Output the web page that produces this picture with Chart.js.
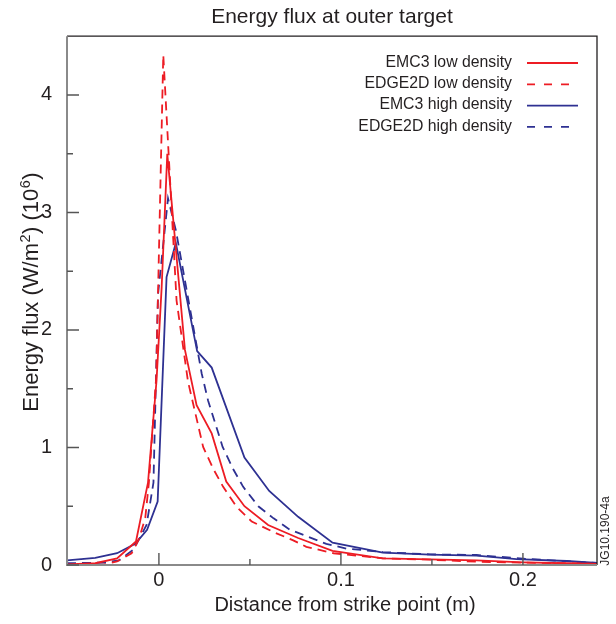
<!DOCTYPE html>
<html>
<head>
<meta charset="utf-8">
<script src="https://cdn.jsdelivr.net/npm/chart.js@4.4.1/dist/chart.umd.min.js"></script>
<style>
  html, body { margin: 0; padding: 0; background: #ffffff; }
  #wrap { width: 616px; height: 624px; }
</style>
</head>
<body>
<div id="wrap"><canvas id="c" width="616" height="624"></canvas></div>
<script>
// ---------- DATA ----------
const seriesLabels = ['EMC3 low density', 'EDGE2D low density', 'EMC3 high density', 'EDGE2D high density'];

const emc3LowX  = [-0.0505, -0.035, -0.023, -0.0126, -0.006, -0.0013, 0.0015, 0.0046, 0.0143, 0.0207, 0.029, 0.037, 0.047, 0.060, 0.0765, 0.0954, 0.123, 0.149, 0.1745, 0.2, 0.224, 0.2407];
const emc3LowY  = [0.005, 0.015, 0.057, 0.20, 0.70, 1.57, 2.36, 3.50, 1.83, 1.36, 1.12, 0.71, 0.50, 0.34, 0.23, 0.12, 0.057, 0.048, 0.040, 0.023, 0.015, 0.010];

const edgeLowX  = [-0.0505, -0.03, -0.023, -0.015, -0.011, -0.0075, -0.0055, -0.0015, 0.0024, 0.0097, 0.016, 0.0243, 0.0298, 0.0353, 0.0427, 0.051, 0.063, 0.0738, 0.081, 0.096, 0.123, 0.149, 0.1745, 0.2, 0.2407];
const edgeLowY  = [0.0, 0.005, 0.03, 0.10, 0.22, 0.40, 0.70, 1.60, 4.34, 2.25, 1.56, 1.005, 0.82, 0.665, 0.495, 0.37, 0.28, 0.21, 0.155, 0.10, 0.057, 0.045, 0.028, 0.02, 0.01];

const emc3HighX = [-0.0505, -0.035, -0.023, -0.013, -0.0065, -0.0007, 0.0042, 0.0093, 0.021, 0.029, 0.047, 0.0606, 0.0765, 0.0954, 0.123, 0.149, 0.1745, 0.1965, 0.224, 0.2407];
const emc3HighY = [0.04, 0.06, 0.10, 0.18, 0.30, 0.54, 2.45, 2.74, 1.82, 1.68, 0.915, 0.63, 0.41, 0.19, 0.105, 0.088, 0.079, 0.05, 0.034, 0.017];

const edgeHighX = [-0.0505, -0.03, -0.022, -0.014, -0.0068, -0.003, -0.0005, 0.005, 0.0093, 0.0235, 0.027, 0.035, 0.041, 0.0463, 0.0546, 0.063, 0.072, 0.082, 0.092, 0.103, 0.123, 0.149, 0.1745, 0.2, 0.2407];
const edgeHighY = [0.015, 0.02, 0.04, 0.13, 0.34, 0.70, 2.30, 3.12, 2.85, 1.63, 1.40, 1.005, 0.81, 0.665, 0.50, 0.397, 0.30, 0.24, 0.18, 0.14, 0.11, 0.09, 0.085, 0.054, 0.017];

const xMajorTicks = [0, 0.1, 0.2];
const xMinorTicks = [0.05, 0.15];
const yMajorTicks = [0, 1, 2, 3, 4];
const yMinorTicks = [0.5, 1.5, 2.5, 3.5];

const chartTitle = 'Energy flux at outer target';
const xTitle = 'Distance from strike point (m)';
// y title pieces: [text, isSuperscript]
const yTitleParts = [['Energy flux (W/m', false], ['2', true], [') (10', false], ['6', true], [')', false]];
const figureId = 'JG10.190-4a';

// ---------- STYLE ----------
const RED = '#ED1C24';
const BLUE = '#2E3192';
const TEXT = '#231F20';
const FONT = "'Liberation Sans', Arial, Helvetica, sans-serif";
const DASH = [9, 6];

function pts(xs, ys) { return xs.map((x, i) => ({ x: x, y: ys[i] })); }

const datasets = [
  { label: seriesLabels[0], data: pts(emc3LowX, emc3LowY),  borderColor: RED,  borderDash: [] },
  { label: seriesLabels[1], data: pts(edgeLowX, edgeLowY),  borderColor: RED,  borderDash: DASH },
  { label: seriesLabels[2], data: pts(emc3HighX, emc3HighY), borderColor: BLUE, borderDash: [] },
  { label: seriesLabels[3], data: pts(edgeHighX, edgeHighY), borderColor: BLUE, borderDash: DASH }
].map(d => Object.assign(d, {
  showLine: true, fill: false, tension: 0, pointRadius: 0, borderWidth: 1.8, backgroundColor: d.borderColor
}));

// ---------- PLUGINS ----------
const framePlugin = {
  id: 'frame',
  afterDraw(chart) {
    const { ctx, chartArea: a, scales: { x, y } } = chart;
    ctx.save();
    // box
    ctx.lineCap = 'butt';
    ctx.strokeStyle = TEXT; ctx.lineWidth = 1.3;
    ctx.beginPath();
    ctx.moveTo(a.left, a.top); ctx.lineTo(a.right, a.top); ctx.lineTo(a.right, a.bottom);
    ctx.stroke();
    ctx.strokeStyle = '#8a8a8a'; ctx.lineWidth = 2;
    ctx.beginPath();
    ctx.moveTo(a.left, a.top); ctx.lineTo(a.left, a.bottom); ctx.lineTo(a.right, a.bottom);
    ctx.stroke();
    // ticks (inward)
    ctx.strokeStyle = '#555'; ctx.lineWidth = 1.4;
    ctx.beginPath();
    xMajorTicks.forEach(v => { const px = x.getPixelForValue(v); ctx.moveTo(px, a.bottom); ctx.lineTo(px, a.bottom - 12); });
    xMinorTicks.forEach(v => { const px = x.getPixelForValue(v); ctx.moveTo(px, a.bottom); ctx.lineTo(px, a.bottom - 6); });
    yMajorTicks.forEach(v => { const py = y.getPixelForValue(v); ctx.moveTo(a.left, py); ctx.lineTo(a.left + 12, py); });
    yMinorTicks.forEach(v => { const py = y.getPixelForValue(v); ctx.moveTo(a.left, py); ctx.lineTo(a.left + 6, py); });
    ctx.stroke();

    // legend (text right-aligned, line sample to the right)
    ctx.font = '15.8px ' + FONT;
    ctx.textAlign = 'right'; ctx.textBaseline = 'middle';
    chart.data.datasets.forEach((d, i) => {
      const yy = 62.5 + i * 21.3;
      ctx.fillStyle = TEXT;
      ctx.fillText(d.label, 512, yy);
      ctx.strokeStyle = d.borderColor; ctx.lineWidth = 1.8;
      ctx.setLineDash(d.borderDash.length ? [8, 9] : []);
      ctx.beginPath(); ctx.moveTo(527, yy + 0.5); ctx.lineTo(578, yy + 0.5); ctx.stroke();
    });
    ctx.setLineDash([]);

    // x axis title
    ctx.fillStyle = TEXT;
    ctx.font = '20px ' + FONT;
    ctx.textAlign = 'center'; ctx.textBaseline = 'middle';
    ctx.fillText(xTitle, 345, 605);

    // y axis title with superscripts
    ctx.save();
    ctx.translate(30, 292);
    ctx.rotate(-Math.PI / 2);
    const big = '22px ' + FONT, small = '14.5px ' + FONT;
    let total = 0;
    yTitleParts.forEach(([t, sup]) => { ctx.font = sup ? small : big; total += ctx.measureText(t).width + (sup ? 1 : 0); });
    let cx = -total / 2;
    ctx.textAlign = 'left'; ctx.textBaseline = 'alphabetic';
    yTitleParts.forEach(([t, sup]) => {
      ctx.font = sup ? small : big;
      ctx.fillText(t, cx + (sup ? 0.5 : 0), sup ? 0 : 8);
      cx += ctx.measureText(t).width + (sup ? 1 : 0);
    });
    ctx.restore();

    // figure id
    ctx.translate(606, 531);
    ctx.rotate(-Math.PI / 2);
    ctx.font = '12px ' + FONT;
    ctx.textAlign = 'center'; ctx.textBaseline = 'middle'; ctx.fillStyle = TEXT;
    ctx.fillText(figureId, 0, 0);
    ctx.restore();
  }
};

// ---------- CHART ----------
new Chart(document.getElementById('c'), {
  type: 'scatter',
  data: { datasets: datasets },
  options: {
    responsive: false,
    animation: false,
    layout: { padding: { left: 0, right: 19, top: 0, bottom: 0 } },
    plugins: {
      legend: { display: false },
      tooltip: { enabled: false },
      title: {
        display: true,
        fullSize: false,
        text: chartTitle,
        color: TEXT,
        font: { family: FONT, size: 21, weight: 'normal', lineHeight: 1.2 },
        padding: { top: 5, bottom: 6 }
      }
    },
    scales: {
      x: {
        type: 'linear',
        min: -0.0505, max: 0.2407,
        grid: { display: false, drawTicks: false },
        border: { display: false },
        afterBuildTicks: s => { s.ticks = xMajorTicks.map(v => ({ value: v })); },
        afterFit: s => { s.height = 59; },
        ticks: {
          color: TEXT, padding: 3,
          font: { family: FONT, size: 20 },
          callback: v => (v === 0 ? '0' : String(v))
        },
        title: { display: false }
      },
      y: {
        type: 'linear',
        min: 0, max: 4.5,
        grid: { display: false, drawTicks: false },
        border: { display: false },
        afterBuildTicks: s => { s.ticks = yMajorTicks.map(v => ({ value: v })); },
        afterFit: s => { s.width = 67; },
        ticks: {
          color: TEXT, padding: 15,
          font: { family: FONT, size: 20 }
        },
        title: { display: false }
      }
    }
  },
  plugins: [framePlugin]
});
</script>
</body>
</html>
